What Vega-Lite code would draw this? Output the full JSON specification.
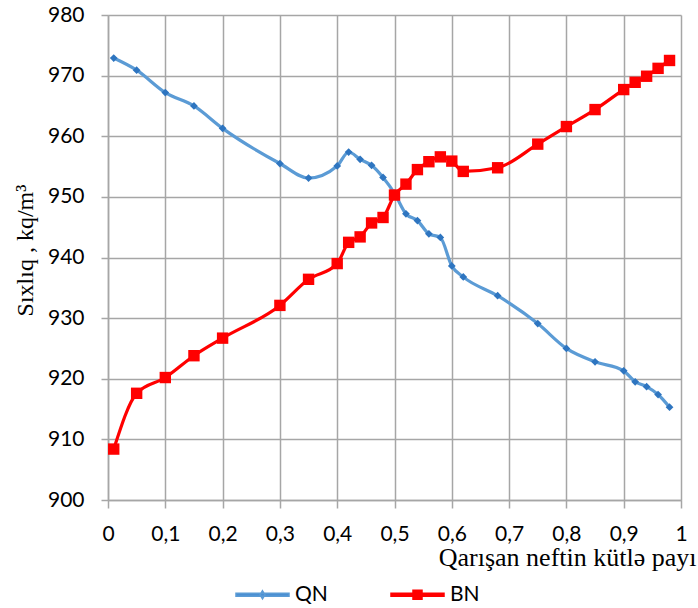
{
  "$schema": "https://vega.github.io/schema/vega-lite/v6.json",
  "autosize": "none",
  "width": 573,
  "height": 485,
  "padding": {"left": 108, "top": 15, "right": 17, "bottom": 108},
  "background": "white",
  "config": {
    "view": {"stroke": null},
    "axis": {
      "labelFont": "Lato",
      "labelFontSize": 21,
      "labelColor": "#000000",
      "titleFont": "Liberation Serif",
      "titleFontSize": 24,
      "titleFontWeight": "normal",
      "titleColor": "#000000",
      "gridColor": "#a6a6a6",
      "gridWidth": 1.5,
      "gridOpacity": 1,
      "domainColor": "#a6a6a6",
      "domainWidth": 1.5,
      "tickColor": "#a6a6a6",
      "tickWidth": 1.5
    }
  },
  "data": {
    "values": [
      {"x": 0.01, "s": "QN", "v": 972.9},
      {"x": 0.05, "s": "QN", "v": 970.9},
      {"x": 0.1, "s": "QN", "v": 967.2},
      {"x": 0.15, "s": "QN", "v": 965.0},
      {"x": 0.2, "s": "QN", "v": 961.3},
      {"x": 0.3, "s": "QN", "v": 955.5},
      {"x": 0.35, "s": "QN", "v": 953.1},
      {"x": 0.4, "s": "QN", "v": 955.1},
      {"x": 0.42, "s": "QN", "v": 957.4},
      {"x": 0.44, "s": "QN", "v": 956.2},
      {"x": 0.46, "s": "QN", "v": 955.2},
      {"x": 0.48, "s": "QN", "v": 953.2},
      {"x": 0.5, "s": "QN", "v": 950.6},
      {"x": 0.52, "s": "QN", "v": 947.2},
      {"x": 0.54, "s": "QN", "v": 946.1},
      {"x": 0.56, "s": "QN", "v": 943.9},
      {"x": 0.58, "s": "QN", "v": 943.3},
      {"x": 0.6, "s": "QN", "v": 938.6},
      {"x": 0.62, "s": "QN", "v": 936.8},
      {"x": 0.68, "s": "QN", "v": 933.7},
      {"x": 0.75, "s": "QN", "v": 929.1},
      {"x": 0.8, "s": "QN", "v": 925.0},
      {"x": 0.85, "s": "QN", "v": 922.8},
      {"x": 0.9, "s": "QN", "v": 921.3},
      {"x": 0.92, "s": "QN", "v": 919.5},
      {"x": 0.94, "s": "QN", "v": 918.7},
      {"x": 0.96, "s": "QN", "v": 917.4},
      {"x": 0.98, "s": "QN", "v": 915.3},
      {"x": 0.01, "s": "BN", "v": 908.4},
      {"x": 0.05, "s": "BN", "v": 917.6},
      {"x": 0.1, "s": "BN", "v": 920.2},
      {"x": 0.15, "s": "BN", "v": 923.8},
      {"x": 0.2, "s": "BN", "v": 926.7},
      {"x": 0.3, "s": "BN", "v": 932.1},
      {"x": 0.35, "s": "BN", "v": 936.4},
      {"x": 0.4, "s": "BN", "v": 939.0},
      {"x": 0.42, "s": "BN", "v": 942.5},
      {"x": 0.44, "s": "BN", "v": 943.4},
      {"x": 0.46, "s": "BN", "v": 945.7},
      {"x": 0.48, "s": "BN", "v": 946.6},
      {"x": 0.5, "s": "BN", "v": 950.3},
      {"x": 0.52, "s": "BN", "v": 952.1},
      {"x": 0.54, "s": "BN", "v": 954.5},
      {"x": 0.56, "s": "BN", "v": 955.8},
      {"x": 0.58, "s": "BN", "v": 956.6},
      {"x": 0.6, "s": "BN", "v": 955.9},
      {"x": 0.62, "s": "BN", "v": 954.2},
      {"x": 0.68, "s": "BN", "v": 954.8},
      {"x": 0.75, "s": "BN", "v": 958.7},
      {"x": 0.8, "s": "BN", "v": 961.6},
      {"x": 0.85, "s": "BN", "v": 964.4},
      {"x": 0.9, "s": "BN", "v": 967.7},
      {"x": 0.92, "s": "BN", "v": 968.9},
      {"x": 0.94, "s": "BN", "v": 969.9},
      {"x": 0.96, "s": "BN", "v": 971.2},
      {"x": 0.98, "s": "BN", "v": 972.5}
    ]
  },
  "encoding": {
    "x": {
      "field": "x",
      "type": "quantitative",
      "scale": {"domain": [0, 1], "nice": false, "zero": false},
      "axis": {
        "values": [0, 0.1, 0.2, 0.3, 0.4, 0.5, 0.6, 0.7, 0.8, 0.9, 1],
        "labelExpr": "replace(format(datum.value, '~g'), '.', ',')",
        "tickSize": 8,
        "labelPadding": 15,
        "labelFlush": false,
        "labelOverlap": false,
        "title": "Qarışan neftin kütlə payı",
        "titleFontSize": 26,
        "titleAnchor": null,
        "titleAlign": "right",
        "titleBaseline": "alphabetic",
        "titleX": 588,
        "titleY": 65
      }
    },
    "y": {
      "field": "v",
      "type": "quantitative",
      "scale": {"domain": [900, 980], "nice": false, "zero": false},
      "axis": {
        "values": [900, 910, 920, 930, 940, 950, 960, 970, 980],
        "tickSize": 7,
        "labelPadding": 17,
        "labelFlush": false,
        "labelOverlap": false,
        "title": "Sıxlıq , kq/m³",
        "titleAngle": -90,
        "titleAlign": "center",
        "titleBaseline": "middle",
        "titleX": -83,
        "titleY": 235
      }
    }
  },
  "layer": [
    {
      "transform": [{"filter": "datum.s === 'QN'"}],
      "mark": {"type": "line", "interpolate": "monotone", "strokeWidth": 3.2},
      "encoding": {
        "color": {
          "field": "s",
          "type": "nominal",
          "scale": {"domain": ["QN", "BN"], "range": ["#5b9bd5", "#ff0000"]},
          "legend": {
            "orient": "none",
            "direction": "horizontal",
            "legendX": 127,
            "legendY": 552,
            "title": null,
            "padding": 0,
            "columnPadding": 60,
            "labelFont": "Lato",
            "labelFontSize": 21,
            "labelColor": "#000000",
            "labelOffset": 5,
            "symbolSize": 2809,
            "encode": {
              "symbols": {
                "update": {
                  "shape": {"signal": "datum.value === 'QN' ? 'M-1,-0.057H1V0.057H-1Z M0,-0.15L0.094,0L0,0.15L-0.094,0Z' : 'M-1,-0.057H1V0.057H-1Z M-0.17,-0.17H0.17V0.17H-0.17Z'"},
                  "fill": {"signal": "datum.value === 'QN' ? '#4a8fd2' : '#ff0000'"},
                  "stroke": {"value": "transparent"},
                  "size": {"value": 2809},
                  "opacity": {"value": 1},
                  "fillOpacity": {"value": 1}
                }
              }
            }
          }
        }
      }
    },
    {
      "transform": [{"filter": "datum.s === 'QN'"}],
      "mark": {"type": "point", "shape": "diamond", "filled": true, "size": 60, "color": "#2e75c0", "opacity": 1}
    },
    {
      "transform": [{"filter": "datum.s === 'BN'"}],
      "mark": {"type": "line", "interpolate": "monotone", "strokeWidth": 3.2},
      "encoding": {
        "color": {"field": "s", "type": "nominal", "scale": {"domain": ["QN", "BN"], "range": ["#5b9bd5", "#ff0000"]}}
      }
    },
    {
      "transform": [{"filter": "datum.s === 'BN'"}],
      "mark": {"type": "square", "filled": true, "size": 130, "color": "#ff0000", "opacity": 1}
    }
  ]
}
